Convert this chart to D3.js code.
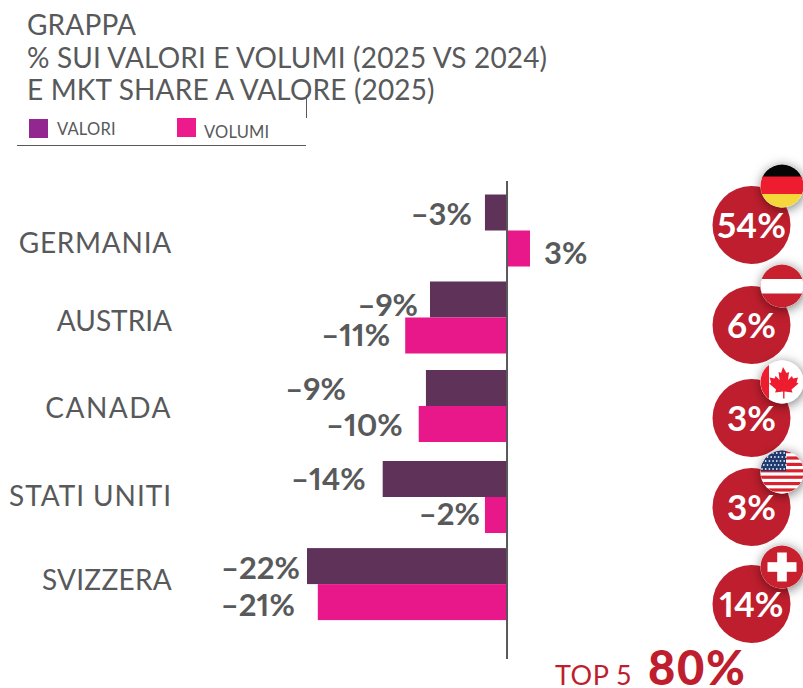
<!DOCTYPE html>
<html><head><meta charset="utf-8">
<script src="https://cdnjs.cloudflare.com/ajax/libs/d3/7.9.0/d3.min.js"></script>
<style>html,body{margin:0;padding:0;background:#fff}svg{display:block}text{font-family:Lato,sans-serif}</style>
</head><body><div id="c"></div>
<script>
const categories=["GERMANIA","AUSTRIA","CANADA","STATI UNITI","SVIZZERA"];
const valori=[-2.45,-8.55,-9,-13.8,-22.2];
const volumi=[2.55,-11.3,-9.8,-2.45,-21];
const valoriLabels=["–3%","–9%","–9%","–14%","–22%"];
const volumiLabels=["3%","–11%","–10%","–2%","–21%"];
const shares=["54%","6%","3%","3%","14%"];
const flags=["de","at","ca","us","ch"];
const titleLines=["GRAPPA","% SUI VALORI E VOLUMI (2025 VS 2024)","E MKT SHARE A VALORE (2025)"];
const seriesNames=["VALORI","VOLUMI"];

const W=803,H=688,grey="#58595b",red="#be1e2d",cPurple="#5f3359",cPink="#e8178a";
const svg=d3.select("#c").append("svg").attr("width",W).attr("height",H);
const defs=svg.append("defs");
const f=defs.append("filter").attr("id","sh").attr("x","-60%").attr("y","-60%").attr("width","220%").attr("height","220%");
f.append("feDropShadow").attr("dx",1).attr("dy",2).attr("stdDeviation",6).attr("flood-color","#000").attr("flood-opacity",.55);

// title + legend
svg.append("g").selectAll("text").data(titleLines).join("text")
 .attr("x",27).attr("y",(d,i)=>35+i*32.5).attr("font-size",28).attr("letter-spacing",.16).attr("fill",grey).text(d=>d);
svg.append("line").attr("x1",17).attr("x2",306).attr("y1",145.5).attr("y2",145.5).attr("stroke",grey);
svg.append("line").attr("x1",306.5).attr("x2",306.5).attr("y1",95).attr("y2",118).attr("stroke",grey);
const legendPos=[{x:29,y:119,c:"#92278f",tx:57,ty:135},{x:177,y:118,c:"#ed1a8b",tx:204,ty:138}];
legendPos.forEach((p,i)=>{
 svg.append("rect").attr("x",p.x).attr("y",p.y).attr("width",19).attr("height",19).attr("fill",p.c);
 svg.append("text").attr("x",p.tx).attr("y",p.ty).attr("font-size",16.5).attr("letter-spacing",.2).attr("fill",grey).text(seriesNames[i]);
});

// scales
const x=d3.scaleLinear().domain([-22.2,2.55]).range([307,530]);
const y=d3.scaleBand().domain(categories).range([186.3,628.3]).paddingInner(0).paddingOuter(0);
const rowNudge=[0,-1.4,-1.3,1.3,0];
const cy=i=>y(categories[i])+y.bandwidth()/2+rowNudge[i];
const barH=36;

const rows=categories.map((c,i)=>({c,i}));
const g=svg.append("g");
g.selectAll(".val").data(rows).join("rect").attr("x",d=>x(Math.min(0,valori[d.i]))).attr("y",d=>cy(d.i)-barH)
 .attr("width",d=>Math.abs(x(valori[d.i])-x(0))).attr("height",barH).attr("fill",cPurple);
g.selectAll(".vol").data(rows).join("rect").attr("x",d=>x(Math.min(0,volumi[d.i]))).attr("y",d=>cy(d.i))
 .attr("width",d=>Math.abs(x(volumi[d.i])-x(0))).attr("height",barH).attr("fill",cPink);
svg.append("line").attr("x1",x(0)).attr("x2",x(0)).attr("y1",181).attr("y2",659).attr("stroke",grey).attr("stroke-width",2);

// category labels
const catDy=[22,13,12,9,6];
const catSpacing=[.75,0,1.5,.95,.25];
svg.selectAll(".cat").data(rows).join("text").attr("x",172).attr("text-anchor","end")
 .attr("y",d=>cy(d.i)+catDy[d.i]).attr("font-size",28).attr("letter-spacing",d=>catSpacing[d.i]).attr("fill",grey).text(d=>d.c);

// value labels
const valGap=[13,12,80,17,7],valDy=[2,6,2,1,3];
const volGap=[14,15,16,5,23],volDy=[5,0,2,0,4];
const lab=(sel)=>sel.attr("font-size",31).attr("font-weight",700).attr("fill",grey).style("font-variant-numeric","proportional-nums");
rows.forEach(d=>{
 lab(svg.append("text")).attr("text-anchor","end").attr("x",x(valori[d.i])-valGap[d.i]).attr("y",cy(d.i)-8+valDy[d.i]).text(valoriLabels[d.i]);
 const pos=volumi[d.i]>0;
 lab(svg.append("text")).attr("text-anchor",pos?"start":"end").attr("x",x(volumi[d.i])+(pos?volGap[d.i]:-volGap[d.i])).attr("y",cy(d.i)+28+volDy[d.i]).text(volumiLabels[d.i]);
});

// share circles
const circleY=[225,325,418,507,604],flagY=[186,286,382,472,567];
const cx=751.5,R=39,fx=782,fr=21.5;
rows.forEach(d=>{
 svg.append("circle").attr("cx",cx).attr("cy",circleY[d.i]).attr("r",R).attr("fill",red);
});
rows.forEach(d=>{
 const gg=svg.append("g").attr("transform",`translate(${fx},${flagY[d.i]})`);
 gg.append("circle").attr("r",fr).attr("fill","#fff").attr("filter","url(#sh)");
 const cid="clip"+d.i;
 defs.append("clipPath").attr("id",cid).append("circle").attr("r",fr);
 const fl=gg.append("g").attr("clip-path",`url(#${cid})`);
 const r=(a,b,c,e,col)=>fl.append("rect").attr("x",a).attr("y",b).attr("width",c).attr("height",e).attr("fill",col);
 const k=flags[d.i];
 if(k==="de"){r(-22,-22,44,15,"#050505");r(-22,-9.5,44,18,"#ed1c2e");r(-22,8,44,15,"#f4d73a");}
 if(k==="at"){r(-22,-22,44,44,"#c8202f");r(-22,-7,44,14.5,"#fff");}
 if(k==="ca"){r(-22,-22,44,44,"#fff");r(-22,-22,9,44,"#ed1c2e");
  fl.append("path").attr("fill","#ed1c2e").attr("d","M1-15l3.5 6 2.5-1-1 8 4-4 1 2.5 5-1-1.5 5 2 1-7 6 1 3-8-1v7h-1.4v-7l-8 1 1-3-7-6 2-1-1.5-5 5 1 1-2.5 4 4-1-8 2.5 1z");}
 if(k==="us"){r(-22,-22,44,44,"#fff");
  d3.range(0,7).forEach(s=>r(-22,-22+s*6.4,44,3.2,"#d8232f"));
  r(-22,-22,26,21,"#1f3a6e");
  d3.range(0,5).forEach(a=>d3.range(0,7).forEach(b=>fl.append("circle").attr("cx",-20+b*3.7+(a%2)*1.8).attr("cy",-19+a*4).attr("r",.9).attr("fill","#dfe4ee")));}
 if(k==="ch"){r(-22,-22,44,44,"#c8202f");r(-4.8,-14.5,9.6,29,"#fff");r(-14.5,-4.8,29,9.6,"#fff");}
});
// share text on top
rows.forEach(d=>{
 svg.append("text").attr("x",cx).attr("y",circleY[d.i]+12.5).attr("text-anchor","middle").attr("font-size",35).attr("font-weight",700).attr("fill","#fff").style("font-variant-numeric","proportional-nums").text(shares[d.i]);
});
// total
svg.append("text").attr("x",555).attr("y",685).attr("font-size",27).attr("letter-spacing",.5).attr("fill",red).text("TOP 5");
svg.append("text").attr("x",648).attr("y",685).attr("font-size",47).attr("font-weight",900).attr("letter-spacing",1.8).attr("fill",red).text("80%");
</script></body></html>
